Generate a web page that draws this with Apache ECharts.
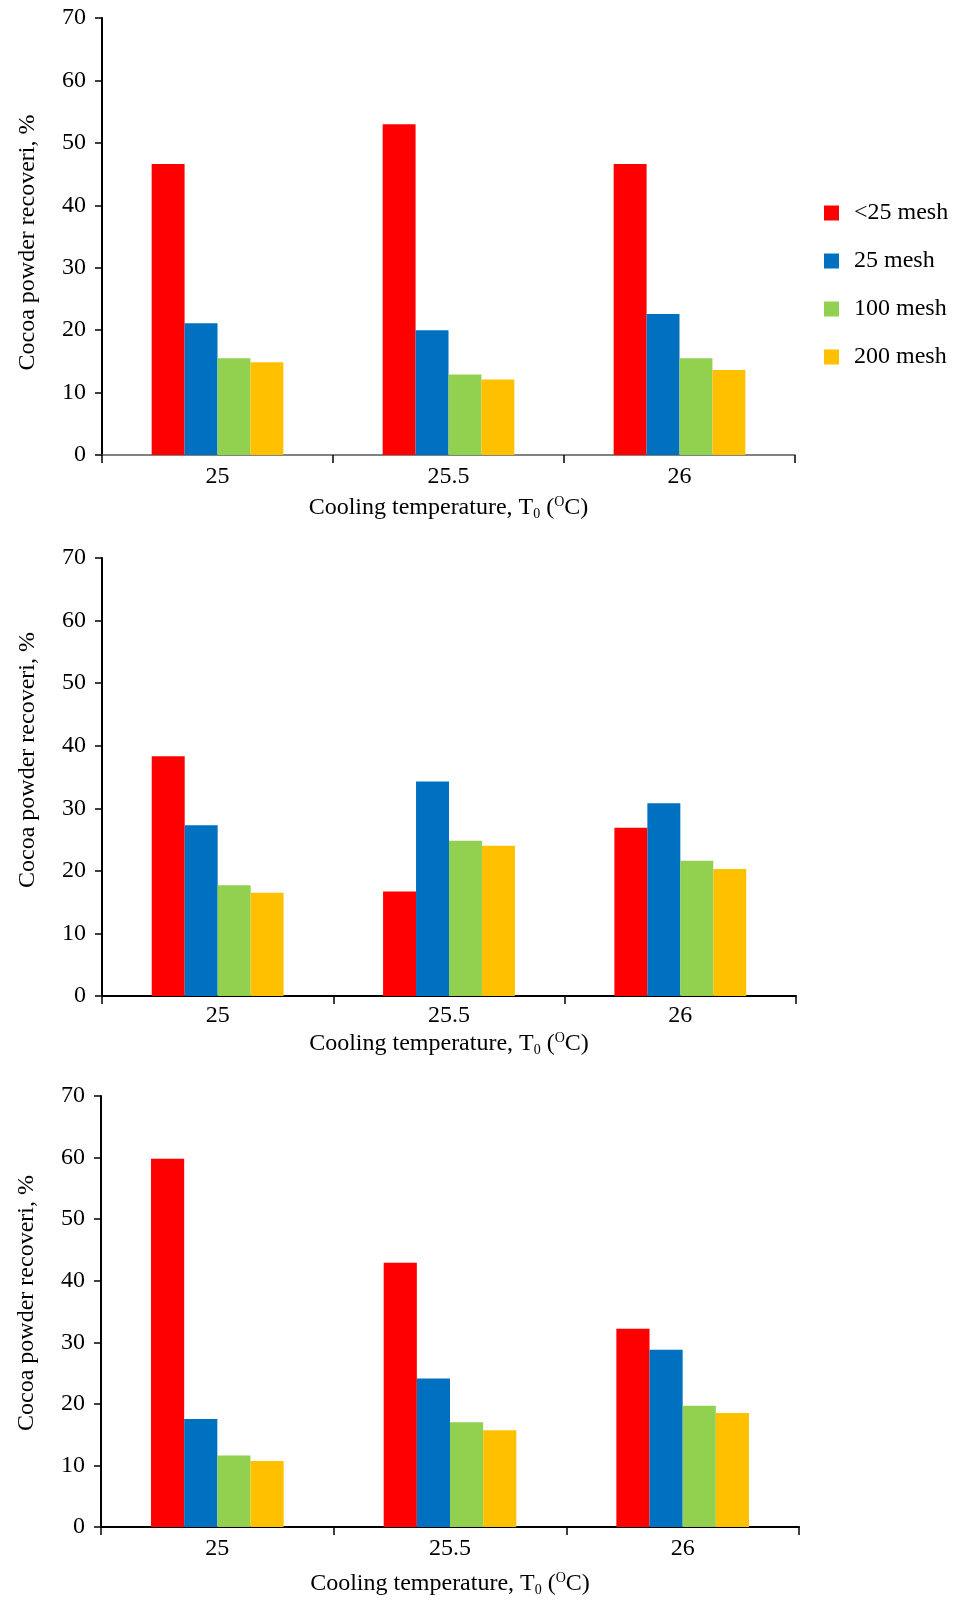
<!DOCTYPE html>
<html>
<head>
<meta charset="utf-8">
<script src="https://cdn.jsdelivr.net/npm/echarts@6/dist/echarts.min.js"></script>
<style>
html,body{margin:0;padding:0;background:#fff;}
#chart{width:956px;height:1600px;}
</style>
</head>
<body>
<div id="chart"></div>
<script>
// ---- data ----
const categories = ['25', '25.5', '26'];
const seriesNames = ['<25 mesh', '25 mesh', '100 mesh', '200 mesh'];
const colors = ['#FF0000', '#0070C0', '#92D050', '#FFC000'];
const yTicks = { min: 0, max: 70, interval: 10 };

// Panel 1 (top)
const p1_lt25 = [46.6, 53.0, 46.6];
const p1_m25  = [21.1, 20.0, 22.6];
const p1_m100 = [15.5, 12.9, 15.5];
const p1_m200 = [14.85, 12.1, 13.6];
// Panel 2 (middle)
const p2_lt25 = [38.3, 16.7, 26.9];
const p2_m25  = [27.3, 34.3, 30.8];
const p2_m100 = [17.7, 24.8, 21.6];
const p2_m200 = [16.5, 24.0, 20.3];
// Panel 3 (bottom)
const p3_lt25 = [59.8, 42.9, 32.2];
const p3_m25  = [17.55, 24.1, 28.8];
const p3_m100 = [11.6, 17.0, 19.7];
const p3_m200 = [10.7, 15.7, 18.5];

const panels = [
  [p1_lt25, p1_m25, p1_m100, p1_m200],
  [p2_lt25, p2_m25, p2_m100, p2_m200],
  [p3_lt25, p3_m25, p3_m100, p3_m200]
];

const yName = 'Cocoa powder recoveri, %';
const xName = '{a|Cooling temperature, T}{sub|0}{a| (}{sup|O}{a|C)}';

// ---- layout ----
const FONT = 'Liberation Serif';
const FS = 24;
const grids = [
  { left: 102, width: 693, top: 18, height: 437 },
  { left: 102, width: 694, top: 558, height: 438 },
  { left: 101, width: 698, top: 1096, height: 431 }
];
const xAxisColors = ['#595959', '#000', '#000'];
const xAxisWidths = [1.5, 2, 2];
const xNameGaps = [40, 35, 44];
const xLabelMargins = [10, 8, 10];
const yNamePads = [[0, 12, 0, 0], [0, 0, 0, 34], [0, 0, 0, 17]];

const option = {
  backgroundColor: '#fff',
  animation: false,
  textStyle: { fontFamily: FONT, color: '#000' },
  color: colors,
  legend: {
    orient: 'vertical',
    left: 824,
    top: 201,
    padding: 0,
    itemWidth: 15,
    itemHeight: 15,
    itemGap: 24,
    icon: 'rect',
    data: seriesNames,
    textStyle: { fontFamily: FONT, fontSize: FS, lineHeight: 24, color: '#000', padding: [0, 0, 0, 10] }
  },
  grid: grids.map(g => Object.assign({ containLabel: false }, g)),
  xAxis: grids.map((g, i) => ({
    type: 'category',
    gridIndex: i,
    data: categories,
    name: xName,
    nameLocation: 'middle',
    nameGap: xNameGaps[i],
    nameTextStyle: {
      rich: {
        a: { fontFamily: FONT, fontSize: FS, lineHeight: 26, color: '#000' },
        sub: { fontFamily: FONT, fontSize: 14, lineHeight: 6, verticalAlign: 'bottom', color: '#000' },
        sup: { fontFamily: FONT, fontSize: 14, lineHeight: 8, verticalAlign: 'top', color: '#000' }
      }
    },
    axisLine: { show: true, onZero: true, lineStyle: { color: xAxisColors[i], width: xAxisWidths[i] } },
    axisTick: { show: true, alignWithLabel: false, length: 8, lineStyle: { color: '#000', width: 1.5 } },
    axisLabel: { fontFamily: FONT, fontSize: FS, color: '#000', margin: xLabelMargins[i] },
    splitLine: { show: false }
  })),
  yAxis: grids.map((g, i) => ({
    type: 'value',
    gridIndex: i,
    min: yTicks.min,
    max: yTicks.max,
    interval: yTicks.interval,
    name: yName,
    nameLocation: 'middle',
    nameRotate: 90,
    nameGap: 62,
    nameTextStyle: { fontFamily: FONT, fontSize: FS, color: '#000', padding: yNamePads[i] },
    axisLine: { show: true, lineStyle: { color: '#000', width: 2 } },
    axisTick: { show: true, length: 7, lineStyle: { color: '#000', width: 1.5 } },
    axisLabel: { fontFamily: FONT, fontSize: FS, color: '#000', margin: 16 },
    splitLine: { show: false }
  })),
  series: []
};

panels.forEach((vals, pi) => {
  vals.forEach((arr, si) => {
    option.series.push({
      type: 'bar',
      name: seriesNames[si],
      xAxisIndex: pi,
      yAxisIndex: pi,
      data: arr,
      barGap: '0%',
      barCategoryGap: '43%',
      itemStyle: { color: colors[si] },
      z: 1
    });
  });
});

const chart = echarts.init(document.getElementById('chart'), null, { renderer: 'canvas' });
chart.setOption(option);
</script>
</body>
</html>
